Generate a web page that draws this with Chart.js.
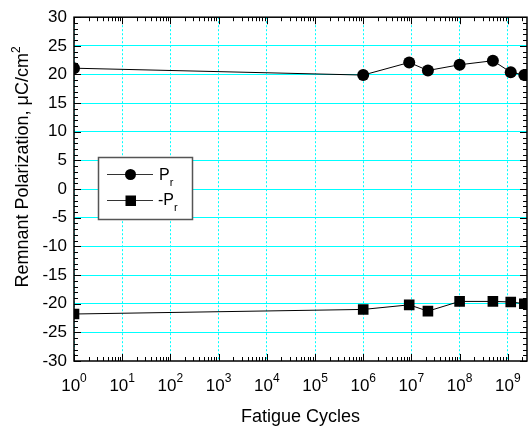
<!DOCTYPE html>
<html>
<head>
<meta charset="utf-8">
<script src="https://cdn.jsdelivr.net/npm/chart.js@4"></script>
<style>
  html, body { margin: 0; padding: 0; background: #fff; }
</style>
</head>
<body>
<canvas id="chart" width="528" height="430"></canvas>
<script>
const FONT = '"Liberation Sans", Arial, sans-serif';

// fatigue cycles (x) and remnant polarization (y)
const cycles = [1, 1e6, 9e6, 2.2e7, 1e8, 4.9e8, 1.15e9, 2.2e9];
const prPos = [21.1, 19.9, 22.1, 20.7, 21.7, 22.4, 20.4, 19.9];
const prNeg = [-21.8, -21.0, -20.2, -21.3, -19.6, -19.6, -19.7, -20.0];

const xDecades = [0, 1, 2, 3, 4, 5, 6, 7, 8, 9];
const xMin = 1, xMax = 2.5e9;
const yMin = -30, yMax = 30, yStep = 5;

function toPoints(xs, ys) {
  return xs.map((v, i) => ({ x: v, y: ys[i] }));
}

// black frame, inward ticks, superscript labels, titles, legend
const decorations = {
  id: 'decorations',
  afterDraw(chart) {
    const { ctx, chartArea: a, scales: { x, y } } = chart;
    ctx.save();
    ctx.strokeStyle = '#000';
    ctx.lineWidth = 1.5;
    ctx.strokeRect(a.left, a.top, a.right - a.left, a.bottom - a.top);

    ctx.lineWidth = 1;
    ctx.beginPath();
    xDecades.forEach(e => {
      for (let m = 1; m <= 9; m++) {
        const v = m * Math.pow(10, e);
        if (v > x.max) continue;
        const px = Math.round(x.getPixelForValue(v)) + 0.5;
        const len = m === 1 ? 7 : 4;
        ctx.moveTo(px, a.bottom); ctx.lineTo(px, a.bottom - len);
        ctx.moveTo(px, a.top); ctx.lineTo(px, a.top + len);
      }
    });
    for (let v = yMin; v <= yMax; v++) {
      const py = Math.round(y.getPixelForValue(v)) + 0.5;
      const len = v % yStep === 0 ? 7 : 4;
      ctx.moveTo(a.left, py); ctx.lineTo(a.left + len, py);
      ctx.moveTo(a.right, py); ctx.lineTo(a.right - len, py);
    }
    ctx.stroke();

    // x tick labels 10^n
    ctx.fillStyle = '#000';
    ctx.textBaseline = 'alphabetic';
    ctx.textAlign = 'left';
    xDecades.forEach(e => {
      const px = x.getPixelForValue(Math.pow(10, e));
      ctx.font = '17px ' + FONT;
      const w1 = ctx.measureText('10').width;
      ctx.font = '12px ' + FONT;
      const w2 = ctx.measureText(String(e)).width;
      const left = px - (w1 + w2) / 2;
      ctx.font = '17px ' + FONT;
      ctx.fillText('10', left, 391);
      ctx.font = '12px ' + FONT;
      ctx.fillText(String(e), left + w1, 382);
    });

    // x title
    ctx.font = '18px ' + FONT;
    ctx.textAlign = 'center';
    ctx.fillText('Fatigue Cycles', (a.left + a.right) / 2, 422);

    // y title
    ctx.save();
    ctx.translate(28, 167);
    ctx.rotate(-Math.PI / 2);
    ctx.textAlign = 'left';
    const main = 'Remnant Polarization, \u03bcC/cm';
    ctx.font = '18px ' + FONT;
    const wm = ctx.measureText(main).width;
    ctx.font = '12px ' + FONT;
    const ws = ctx.measureText('2').width;
    const start = -(wm + ws) / 2;
    ctx.font = '18px ' + FONT;
    ctx.fillText(main, start, 0);
    ctx.font = '12px ' + FONT;
    ctx.fillText('2', start + wm, -8);
    ctx.restore();

    // legend
    ctx.fillStyle = '#fff';
    ctx.fillRect(98.5, 157.5, 94, 62);
    ctx.strokeStyle = '#555';
    ctx.lineWidth = 1.5;
    ctx.strokeRect(98.5, 157.5, 94, 62);
    ctx.strokeStyle = '#333';
    ctx.lineWidth = 1;
    ctx.beginPath();
    ctx.moveTo(107, 174.5); ctx.lineTo(153, 174.5);
    ctx.moveTo(107, 200.5); ctx.lineTo(153, 200.5);
    ctx.stroke();
    ctx.fillStyle = '#000';
    ctx.beginPath();
    ctx.arc(130.5, 174.5, 5.5, 0, Math.PI * 2);
    ctx.fill();
    ctx.fillRect(125.5, 195.5, 10.5, 10.5);

    ctx.textAlign = 'left';
    ctx.font = '16px ' + FONT;
    ctx.fillText('P', 159, 180);
    const wp = ctx.measureText('P').width;
    ctx.font = '11px ' + FONT;
    ctx.fillText('r', 159 + wp, 186);
    ctx.font = '16px ' + FONT;
    ctx.fillText('-P', 158, 205);
    const wn = ctx.measureText('-P').width;
    ctx.font = '11px ' + FONT;
    ctx.fillText('r', 158 + wn, 211);
    ctx.restore();
  }
};

new Chart(document.getElementById('chart'), {
  type: 'line',
  data: {
    datasets: [{
      label: 'Pr',
      data: toPoints(cycles, prPos),
      borderColor: '#000',
      backgroundColor: '#000',
      borderWidth: 1,
      pointStyle: 'circle',
      pointRadius: 6,
      pointBorderWidth: 0,
      tension: 0
    }, {
      label: '-Pr',
      data: toPoints(cycles, prNeg),
      borderColor: '#000',
      backgroundColor: '#000',
      borderWidth: 1,
      pointStyle: 'rect',
      pointRadius: 7.5,
      pointBorderWidth: 0,
      tension: 0
    }]
  },
  options: {
    responsive: false,
    animation: false,
    devicePixelRatio: 1,
    layout: { padding: { top: 14, right: 1, left: 0, bottom: 0 }, autoPadding: false },
    plugins: {
      legend: { display: false },
      tooltip: { enabled: false }
    },
    scales: {
      x: {
        type: 'logarithmic',
        min: xMin,
        max: xMax,
        afterBuildTicks: s => { s.ticks = xDecades.map(e => ({ value: Math.pow(10, e) })); },
        afterFit: s => { s.height = 69; },
        ticks: { display: false },
        grid: { color: '#00ffff', lineWidth: 1, drawTicks: false },
        border: { display: false, dash: [2, 2] }
      },
      y: {
        min: yMin,
        max: yMax,
        afterFit: s => { s.width = 74; },
        ticks: {
          stepSize: yStep,
          color: '#000',
          padding: 7,
          font: { family: FONT, size: 17 }
        },
        grid: {
          drawTicks: false,
          lineWidth: 1,
          color: c => (c.tick && Math.abs(c.tick.value) === 30) ? 'rgba(0,0,0,0)' : '#00ffff'
        },
        border: { display: false }
      }
    }
  },
  plugins: [decorations]
});
</script>
</body>
</html>
